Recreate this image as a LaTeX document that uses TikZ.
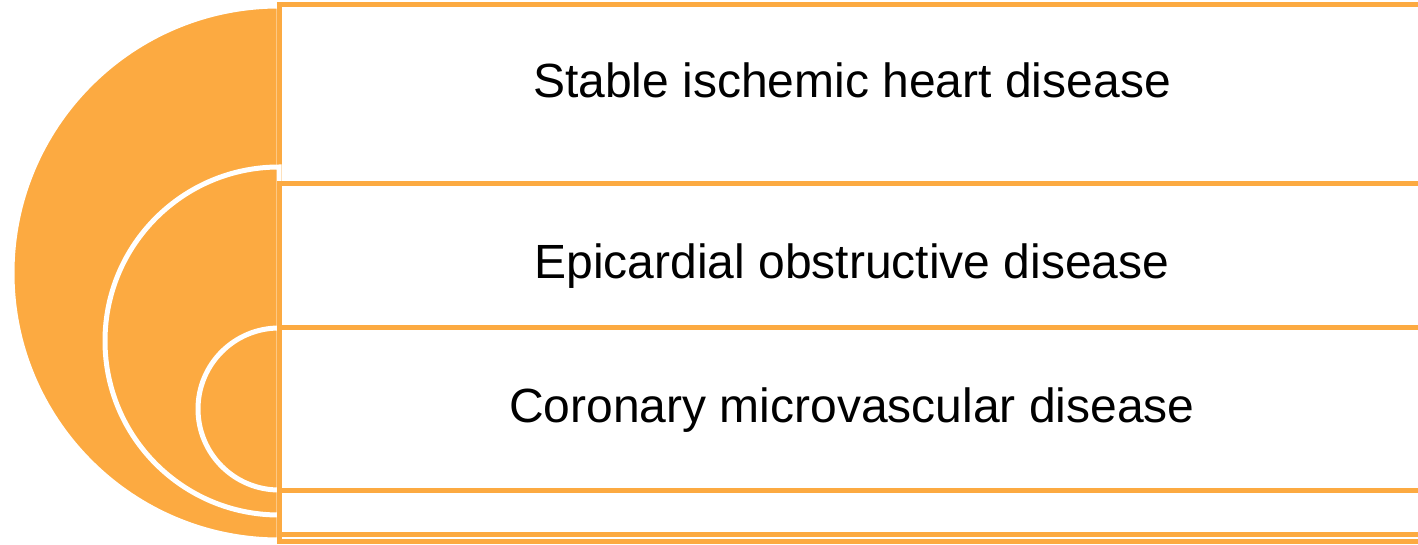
\documentclass[tikz,border=0pt]{standalone}
\usepackage{fontspec}
\setmainfont{Liberation Sans}
\definecolor{tgtorange}{HTML}{FCAA41}
\begin{document}
\begin{tikzpicture}[x=1pt,y=1pt,
  halfdisc/.style={fill=tgtorange,draw=white,line width=5pt},
  textbox/.style={fill=white,draw=tgtorange,line width=5pt},
  label/.style={anchor=base,inner sep=0pt,font=\fontsize{48}{58}\selectfont}]
\useasboundingbox (0,0) rectangle (1418,544);
\begin{scope}
\clip (0,0) rectangle (1418,544);
% level 1
\draw[halfdisc] (279,538) arc[start angle=90,end angle=270,radius=267] -- cycle;
\draw[textbox] (279,539) rectangle (1426,3);
% level 2
\draw[halfdisc] (279,377) arc[start angle=90,end angle=270,radius=174] -- cycle;
\draw[textbox] (279,360) rectangle (1426,10);
% level 3
\draw[halfdisc] (279,216) arc[start angle=90,end angle=270,radius=81] -- cycle;
\draw[textbox] (279,217) rectangle (1426,54);
\end{scope}
\node[label] (t1) at (852,446) {Stable ischemic heart disease};
\node[label] (t2) at (852,265) {Epicardial obstructive disease};
\node[label] (t3) at (852,122) {Coronary microvascular disease};
\end{tikzpicture}
\end{document}
